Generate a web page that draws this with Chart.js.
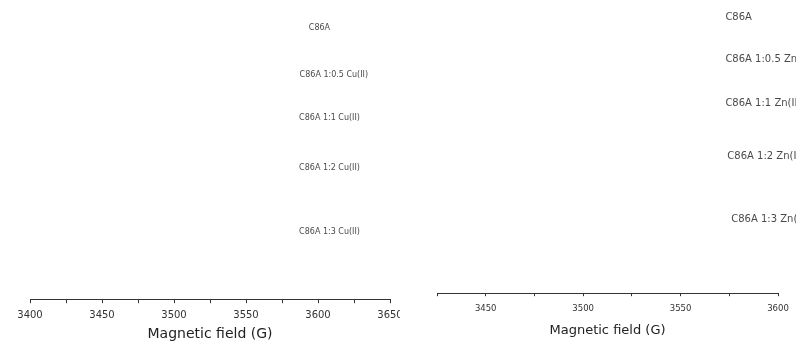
<!DOCTYPE html>
<html>
<head>
<meta charset="utf-8">
<script src="https://cdn.jsdelivr.net/npm/chart.js@4/dist/chart.umd.min.js"></script>
<style>
  html, body { margin: 0; padding: 0; background: #fff; }
  body { width: 796px; height: 344px; position: relative; overflow: hidden; }
  .panel { position: absolute; top: 0; height: 344px; }
  #left { left: 0; width: 400px; }
  #right { left: 400px; width: 396px; }
</style>
</head>
<body>
<div class="panel" id="left"><canvas id="c1" width="400" height="344"></canvas></div>
<div class="panel" id="right"><canvas id="c2" width="396" height="344"></canvas></div>
<script>
// ---- data ----
const axisTitle = "Magnetic field (G)";

const cuRange = [3400, 3650];
const cuLabels = ["C86A", "C86A 1:0.5 Cu(II)", "C86A 1:1 Cu(II)", "C86A 1:2 Cu(II)", "C86A 1:3 Cu(II)"];
const cuLabelField = [3601, 3611, 3608, 3608, 3608];
const cuLabelOffset = [90.6, 74.9, 60.5, 43.8, 22.4];

const znRange = [3425, 3600];
const znLabels = ["C86A", "C86A 1:0.5 Zn(II)", "C86A 1:1 Zn(II)", "C86A 1:2 Zn(II)", "C86A 1:3 Zn(II)"];
const znLabelField = [3573, 3573, 3573, 3574, 3576];
const znLabelOffset = [94.2, 79.9, 64.8, 46.8, 25.3];

const majorStep = 50;
const minorStep = 25;

// ---- drawing ----
const FAMILY = '"DejaVu Sans", "Liberation Sans", Arial, sans-serif';

function labelPlugin(texts, xs, ys, size, align) {
  return {
    id: 'seriesLabels',
    afterDraw(chart) {
      const ctx = chart.ctx;
      const sx = chart.scales.x, sy = chart.scales.y;
      ctx.save();
      ctx.font = size + 'px ' + FAMILY;
      ctx.fillStyle = '#4a4a4a';
      ctx.textAlign = align;
      ctx.textBaseline = 'middle';
      texts.forEach((t, i) => {
        ctx.fillText(t, sx.getPixelForValue(xs[i]), sy.getPixelForValue(ys[i]));
      });
      ctx.restore();
    }
  };
}

function makeChart(id, range, texts, xs, ys, cfg) {
  return new Chart(document.getElementById(id), {
    type: 'line',
    data: { datasets: [{ data: [], borderColor: '#222', borderWidth: 1, pointRadius: 0 }] },
    options: {
      responsive: false,
      animation: false,
      layout: { padding: cfg.padding, autoPadding: false },
      plugins: { legend: { display: false }, tooltip: { enabled: false } },
      scales: {
        x: {
          type: 'linear',
          min: range[0], max: range[1],
          afterFit(scale) { scale.paddingLeft = 0; scale.paddingRight = 0; },
          border: { display: true, color: '#333', width: 1 },
          grid: { drawOnChartArea: false, drawTicks: true, tickLength: cfg.tickLength, color: '#333' },
          ticks: {
            stepSize: minorStep,
            autoSkip: false,
            maxRotation: 0,
            padding: cfg.tickPad,
            color: '#333',
            font: { family: FAMILY, size: cfg.tickSize },
            callback: v => (v % majorStep === 0 ? String(v) : '')
          },
          title: {
            display: true, text: axisTitle, color: '#222',
            font: { family: FAMILY, size: cfg.titleSize },
            padding: { top: cfg.titlePad, bottom: 0 }
          }
        },
        y: { display: false, min: 0, max: 100 }
      }
    },
    plugins: [labelPlugin(texts, xs, ys, cfg.labelSize, cfg.align)]
  });
}

makeChart('c1', cuRange, cuLabels, cuLabelField, cuLabelOffset, {
  padding: { left: 30, right: 10, top: 0, bottom: 1 },
  tickLength: 4, tickPad: 6, tickSize: 10, titleSize: 14, titlePad: -1,
  labelSize: 8, align: 'center'
});

makeChart('c2', znRange, znLabels, znLabelField, znLabelOffset, {
  padding: { left: 37, right: 18, top: 0, bottom: 6 },
  tickLength: 3, tickPad: 7, tickSize: 8.5, titleSize: 13, titlePad: 2,
  labelSize: 10, align: 'left'
});
</script>
</body>
</html>
